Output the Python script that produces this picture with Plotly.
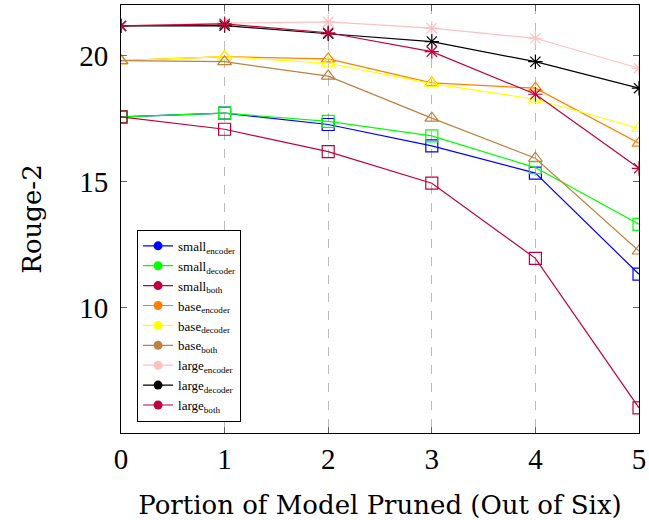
import plotly.graph_objects as go

x = [0, 1, 2, 3, 4, 5]

names = ["small<sub>encoder</sub>", "small<sub>decoder</sub>", "small<sub>both</sub>",
         "base<sub>encoder</sub>", "base<sub>decoder</sub>", "base<sub>both</sub>",
         "large<sub>encoder</sub>", "large<sub>decoder</sub>", "large<sub>both</sub>"]

small_encoder = [17.58, 17.73, 17.28, 16.43, 15.35, 11.34]
small_decoder = [17.58, 17.73, 17.40, 16.83, 15.57, 13.32]
small_both = [17.58, 17.09, 16.20, 14.95, 11.97, 6.04]
base_encoder = [19.81, 19.97, 19.88, 18.93, 18.72, 16.54]
base_decoder = [19.81, 19.97, 19.71, 18.90, 18.28, 17.13]
base_both = [19.81, 19.77, 19.20, 17.53, 15.94, 12.26]
large_encoder = [21.19, 21.30, 21.35, 21.10, 20.70, 19.51]
large_decoder = [21.19, 21.20, 20.88, 20.57, 19.77, 18.72]
large_both = [21.19, 21.27, 20.92, 20.17, 18.48, 15.54]

series = [small_encoder, small_decoder, small_both, base_encoder, base_decoder,
          base_both, large_encoder, large_decoder, large_both]
colors = ["#0000ff", "#00ff00", "#c0003c", "#ff8000", "#ffff00", "#bf8040",
          "#ffbfbf", "#000000", "#c0003c"]
symbols = ["square-open"] * 3 + ["triangle-up-open"] * 3 + ["asterisk-open"] * 3

fig = go.Figure()
for name, ys, c, s in zip(names, series, colors, symbols):
    fig.add_trace(go.Scatter(x=x, y=ys, mode="lines+markers", name=name,
                             line=dict(color=c, width=1.2),
                             marker=dict(symbol=s, size=12, color=c,
                                         line=dict(color=c, width=1.2)),
                             showlegend=False))
for name, c in zip(names, colors):
    fig.add_trace(go.Scatter(x=[None], y=[None], mode="lines+markers", name=name,
                             line=dict(color=c, width=1.2),
                             marker=dict(symbol="circle", size=9, color=c)))

tick_font = "Liberation Serif"
title_font = "DejaVu Serif"
fig.update_layout(
    width=649, height=520,
    margin=dict(l=121, r=10, t=5, b=87),
    paper_bgcolor="white", plot_bgcolor="white",
    font=dict(family=tick_font, color="black", size=24),
    legend=dict(x=0.031, y=0.026, xanchor="left", yanchor="bottom",
                bgcolor="white", bordercolor="black", borderwidth=1,
                font=dict(size=13, family=tick_font), tracegroupgap=0,
                itemwidth=30),
    xaxis=dict(range=[0, 5], tickvals=x, ticks="inside", ticklen=6,
               tickcolor="#666", showline=True, linecolor="black", linewidth=1,
               mirror="allticks", showgrid=True, gridcolor="#bbbbbb",
               griddash="dash", gridwidth=1, zeroline=False,
               ticklabelstandoff=0, automargin=False,
               title=dict(text="Portion of Model Pruned (Out of Six)",
                          font=dict(size=26, family=title_font), standoff=24),
               tickfont=dict(size=29, family=tick_font)),
    yaxis=dict(range=[5.04, 22.02], tickvals=[10, 15, 20], ticks="inside",
               ticklen=6, tickcolor="#666", showline=True, linecolor="black",
               linewidth=1, mirror="allticks", showgrid=False, zeroline=False,
               ticklabelstandoff=6, automargin=False,
               title=dict(text="Rouge-2", font=dict(size=26, family=title_font),
                          standoff=30),
               tickfont=dict(size=29, family=tick_font)),
)

fig.write_html("out.html")
